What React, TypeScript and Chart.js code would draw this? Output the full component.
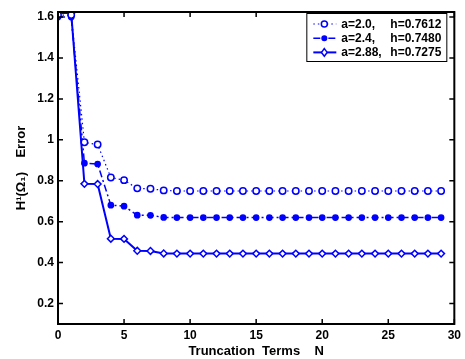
import React, { useEffect, useRef } from 'react';
import { Chart, registerables } from 'chart.js';
Chart.register(...registerables);

const truncationN = [0, 1, 2, 3, 4, 5, 6, 7, 8, 9, 10, 11, 12, 13, 14, 15, 16, 17, 18, 19, 20, 21, 22, 23, 24, 25, 26, 27, 28, 29];
const errA20 = [1.61, 1.61, 0.988, 0.977, 0.816, 0.803, 0.763, 0.761, 0.753, 0.75, 0.75, 0.75, 0.75, 0.75, 0.75, 0.75, 0.75, 0.75, 0.75, 0.75, 0.75, 0.75, 0.75, 0.75, 0.75, 0.75, 0.75, 0.75, 0.75, 0.75];
const errA24 = [1.6, 1.6, 0.886, 0.882, 0.681, 0.676, 0.632, 0.631, 0.621, 0.62, 0.62, 0.62, 0.62, 0.62, 0.62, 0.62, 0.62, 0.62, 0.62, 0.62, 0.62, 0.62, 0.62, 0.62, 0.62, 0.62, 0.62, 0.62, 0.62, 0.62];
const errA288 = [1.62, 1.62, 0.785, 0.784, 0.517, 0.516, 0.458, 0.457, 0.445, 0.444, 0.444, 0.444, 0.444, 0.444, 0.444, 0.444, 0.444, 0.444, 0.444, 0.444, 0.444, 0.444, 0.444, 0.444, 0.444, 0.444, 0.444, 0.444, 0.444, 0.444];
const yTickValues = [0.2, 0.4, 0.6, 0.8, 1, 1.2, 1.4, 1.6];
const yTickLabels = ['0.2', '0.4', '0.6', '0.8', '1', '1.2', '1.4', '1.6'];
const xTickValues = [0, 5, 10, 15, 20, 25, 30];
const legendA = ['a=2.0,', 'a=2.4,', 'a=2.88,'];
const legendH = ['h=0.7612', 'h=0.7480', 'h=0.7275'];

const FONT = "'Liberation Sans', Arial, Helvetica, sans-serif";
const BLUE = '#0000ff';

const seriesStyles = [
  { dash: [1.5, 3], marker: 'circle', radius: 3.2, fill: '#ffffff', width: 1.2 },
  { dash: [7, 3, 2, 3], marker: 'dot', radius: 2.6, fill: BLUE, width: 1.5 },
  { dash: [], marker: 'diamond', radius: 3.4, fill: '#ffffff', width: 2 },
];

function drawMarker(ctx: CanvasRenderingContext2D, kind: string, x: number, y: number, r: number, fill: string) {
  ctx.save();
  ctx.setLineDash([]);
  ctx.beginPath();
  if (kind === 'diamond') {
    ctx.moveTo(x, y - r);
    ctx.lineTo(x + r * 0.75, y);
    ctx.lineTo(x, y + r);
    ctx.lineTo(x - r * 0.75, y);
    ctx.closePath();
  } else {
    ctx.arc(x, y, r, 0, Math.PI * 2);
  }
  ctx.fillStyle = fill;
  ctx.fill();
  ctx.lineWidth = 1.5;
  ctx.strokeStyle = BLUE;
  ctx.stroke();
  ctx.restore();
}

const frameAndLegend = {
  id: 'frameAndLegend',
  afterDraw(chart: any) {
    const { ctx, chartArea } = chart;
    const { left, right, top, bottom } = chartArea;
    const xs = chart.scales.x;
    const ys = chart.scales.y;
    ctx.save();
    ctx.strokeStyle = '#000';
    ctx.lineWidth = 2;
    ctx.strokeRect(left, top, right - left, bottom - top);
    ctx.lineWidth = 1.5;
    ctx.beginPath();
    xTickValues.forEach((v) => {
      const px = xs.getPixelForValue(v);
      ctx.moveTo(px, bottom);
      ctx.lineTo(px, bottom - 5);
      ctx.moveTo(px, top);
      ctx.lineTo(px, top + 5);
    });
    yTickValues.forEach((v) => {
      const py = ys.getPixelForValue(v);
      ctx.moveTo(left, py);
      ctx.lineTo(left + 5, py);
      ctx.moveTo(right, py);
      ctx.lineTo(right - 5, py);
    });
    ctx.stroke();

    // legend box
    const bx = right - 148;
    const by = top + 1;
    const bw = 141;
    const bh = 49;
    ctx.fillStyle = '#ffffff';
    ctx.fillRect(bx, by, bw, bh);
    ctx.lineWidth = 1;
    ctx.strokeStyle = '#000';
    ctx.strokeRect(bx + 0.5, by + 0.5, bw - 1, bh - 1);
    ctx.font = `bold 12px ${FONT}`;
    ctx.textBaseline = 'middle';
    for (let i = 0; i < 3; i++) {
      const st = seriesStyles[i];
      const ry = by + 11 + i * 14.2;
      ctx.save();
      ctx.strokeStyle = BLUE;
      ctx.lineWidth = st.width;
      ctx.setLineDash(st.dash);
      ctx.beginPath();
      ctx.moveTo(bx + 7, ry);
      ctx.lineTo(bx + 30, ry);
      ctx.stroke();
      ctx.restore();
      drawMarker(ctx, st.marker, bx + 18, ry, st.marker === 'dot' ? 2.3 : st.marker === 'diamond' ? 3.8 : 3, st.fill);
      ctx.fillStyle = '#000';
      ctx.textAlign = 'left';
      ctx.fillText(legendA[i], bx + 35, ry + 0.5);
      ctx.fillText(legendH[i], bx + 84, ry + 0.5);
    }
    ctx.restore();
  },
};

export default function App() {
  const ref = useRef<HTMLCanvasElement>(null);
  useEffect(() => {
    const canvas = ref.current;
    if (!canvas) return;
    const seriesData = [errA20, errA24, errA288];
    const chart = new Chart(canvas, {
      type: 'line',
      data: {
        labels: truncationN,
        datasets: seriesData.map((vals, i) => {
          const st = seriesStyles[i];
          return {
            data: vals.map((v, j) => ({ x: truncationN[j], y: v })),
            borderColor: BLUE,
            borderWidth: st.width,
            borderDash: st.dash,
            pointStyle: st.marker === 'diamond' ? 'rectRot' : 'circle',
            pointRadius: st.radius,
            pointBackgroundColor: st.fill,
            pointBorderColor: BLUE,
            pointBorderWidth: 1.5,
            fill: false,
            tension: 0,
          };
        }),
      },
      options: {
        animation: false,
        responsive: false,
        maintainAspectRatio: false,
        layout: { padding: { top: 12, right: 9, left: 0, bottom: 0 } },
        plugins: { legend: { display: false }, tooltip: { enabled: false } },
        scales: {
          x: {
            type: 'linear',
            min: 0,
            max: 30,
            grid: { display: false, drawTicks: false },
            border: { display: false },
            afterBuildTicks: (s: any) => { s.ticks = xTickValues.map((v) => ({ value: v })); },
            afterFit: (s: any) => { s.height = 35; },
            ticks: { color: '#000', font: { family: FONT, weight: 'bold', size: 12 }, padding: 4, maxRotation: 0, autoSkip: false, callback: (v: any) => String(v) },
            title: { display: true, text: 'Truncation  Terms    N', color: '#000', font: { family: FONT, weight: 'bold', size: 13 }, padding: { top: 0, bottom: 0 } },
          },
          y: {
            type: 'linear',
            min: 0.1,
            max: 1.625,
            grid: { display: false, drawTicks: false },
            border: { display: false },
            afterBuildTicks: (s: any) => { s.ticks = yTickValues.map((v) => ({ value: v })); },
            afterFit: (s: any) => { s.width = 58; },
            ticks: {
              color: '#000',
              font: { family: FONT, weight: 'bold', size: 12 },
              padding: 4,
              callback: (v: any) => {
                const idx = yTickValues.indexOf(v);
                return idx >= 0 ? yTickLabels[idx] : String(v);
              },
            },
            title: { display: true, text: 'H\u00B9(\u03A9\u2081)    Error', color: '#000', font: { family: FONT, weight: 'bold', size: 13 }, padding: { top: 14, bottom: 0 } },
          },
        },
      },
      plugins: [frameAndLegend],
    } as any);
    return () => chart.destroy();
  }, []);
  return (
    <div style={{ position: 'fixed', left: 0, top: 0, width: 465, height: 359, background: '#fff' }}>
      <canvas ref={ref} width={465} height={359} style={{ width: 465, height: 359 }} />
    </div>
  );
}
